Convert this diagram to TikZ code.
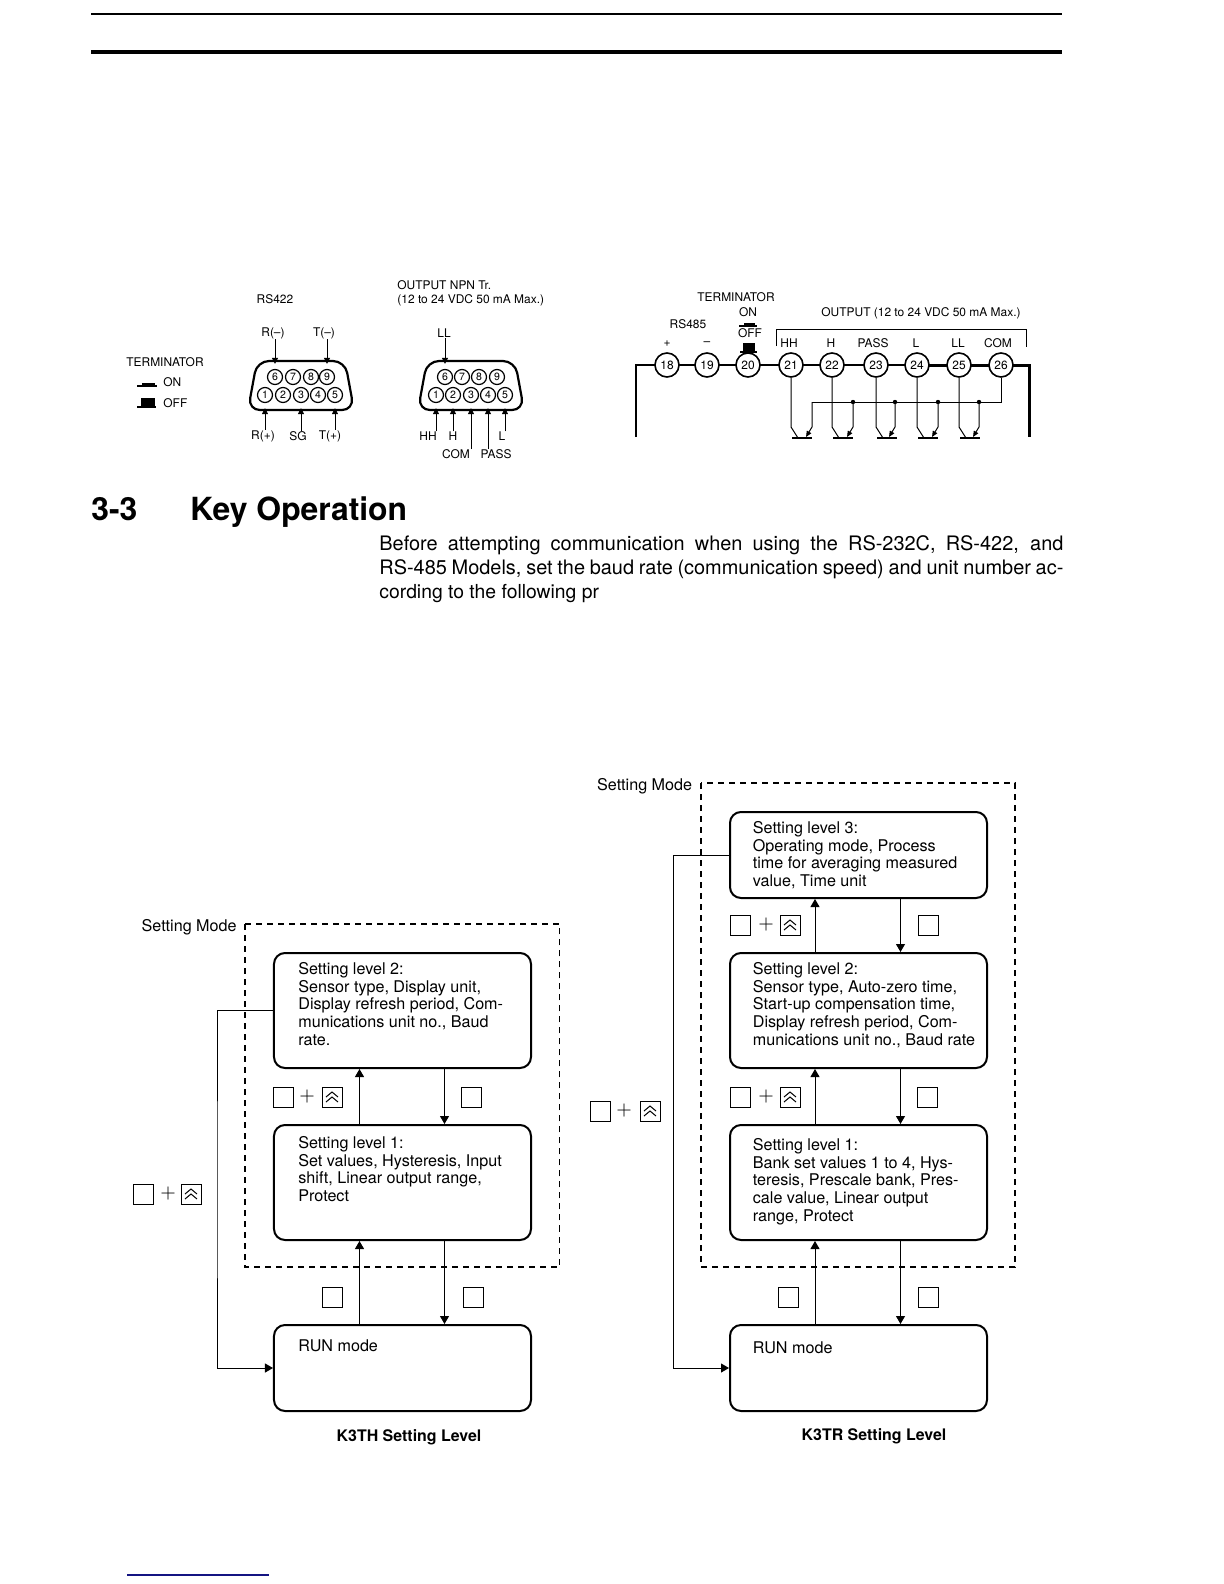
\documentclass[tikz,border=0pt]{standalone}
\usepackage{fontspec}
\usepackage{tikz}
\usepackage{xcolor}
\usetikzlibrary{arrows.meta}
\setmainfont{TeX Gyre Heros}
\definecolor{footblue}{RGB}{20,20,130}

\tikzset{
    smalltext/.style={inner sep=0pt, font=\fontsize{6}{7}\selectfont},
    boxtext/.style={inner sep=0pt, anchor=north west, align=left, font=\fontsize{8.1}{8.85}\selectfont},
    levelbox/.style={draw, line width=1bp, rounded corners=5.5bp, minimum width=128.5bp, minimum height=57.5bp},
    runbox/.style={levelbox, minimum height=43bp},
    flowline/.style={line width=0.5bp, -{Triangle[length=4bp,width=4.5bp]}},
    modeline/.style={line width=0.65bp, dash pattern=on 3bp off 2.5bp},
    keybox/.style={draw, line width=0.5bp, inner sep=0pt, minimum size=10bp},
    upkey/.style={keybox, path picture={
        \draw[line width=0.5bp, shift={(path picture bounding box.center)}] (-6,0) -- (0,-5) -- (6,0) (-6,5) -- (0,0) -- (6,5);}},
    plussign/.style={inner sep=0pt, font=\fontsize{10}{11}\selectfont},
    pincircle/.style={draw, circle, fill=white, line width=0.6bp, inner sep=0pt, minimum size=7.5bp, font=\fontsize{5.3}{6}\selectfont},
    termcircle/.style={draw, circle, fill=white, line width=0.8bp, inner sep=0pt, minimum size=12bp, font=\fontsize{6}{7}\selectfont},
    pinarrow/.style={line width=0.5bp, -{Triangle[length=3bp,width=3bp]}, shorten >=2.5bp},
    headtext/.style={inner sep=0pt, anchor=base west, font=\fontsize{16}{16}\selectfont\bfseries},
}

\begin{document}
\begin{tikzpicture}[x=0.5bp, y=-0.5bp]
    \useasboundingbox (0,0) rectangle (1224,1584);

    % --- Page rules ---
    \draw[line width=0.6bp] (91,14) -- (1062,14);
    \draw[line width=2bp] (91,52) -- (1062,52);
    \draw[footblue, line width=0.6bp] (127,1575) -- (269,1575);

    % --- RS422 connector ---
    \node[smalltext] (termTitle) at (165,362) {TERMINATOR};
    \node[smalltext, anchor=west] (termOn) at (163,382) {ON};
    \node[smalltext, anchor=west] (termOff) at (163,403) {OFF};
    \draw[line width=1bp] (137,386) -- (157,386);
    \fill (142,383) rectangle (155,386);
    \draw[line width=1bp] (137,407) -- (156,407);
    \fill (141,398) rectangle (155,407);

    \node[smalltext] (rsTitle) at (275,299) {RS422};
    \draw[line width=1.1bp, rounded corners=6bp] (257,361) -- (345,361) -- (354,410) -- (248,410) -- cycle;
    \foreach \pin/\px in {6/275,7/293,8/311,9/327}
        \node[pincircle] (rsPin\pin) at (\px,377) {\pin};
    \foreach \pin/\px in {1/265,2/283,3/301,4/318,5/335}
        \node[pincircle] (rsPin\pin) at (\px,395) {\pin};
    \node[smalltext] (rsRm) at (273,333) {R(--)};
    \node[smalltext] (rsTm) at (324,333) {T(--)};
    \node[smalltext] (rsRp) at (263,436) {R(+)};
    \node[smalltext] (rsSg) at (298,436) {SG};
    \node[smalltext] (rsTp) at (330,436) {T(+)};
    \draw[pinarrow] (rsRm.south -| rsPin6) -- (rsPin6.north);
    \draw[pinarrow] (rsTm.south -| rsPin9) -- (rsPin9.north);
    \draw[pinarrow] (rsRp.north -| rsPin1) -- (rsPin1.south);
    \draw[pinarrow] (rsSg.north -| rsPin3) -- (rsPin3.south);
    \draw[pinarrow] (rsTp.north -| rsPin5) -- (rsPin5.south);

    % --- NPN output connector ---
    \node[smalltext, anchor=west] (npnTitle) at (397,285) {OUTPUT NPN Tr.};
    \node[smalltext, anchor=west] (npnRange) at (397,300) {(12 to 24 VDC 50 mA Max.)};
    \draw[line width=1.1bp, rounded corners=6bp] (427,361) -- (515,361) -- (524,410) -- (418,410) -- cycle;
    \foreach \pin/\px in {6/445,7/462,8/479,9/497}
        \node[pincircle] (npnPin\pin) at (\px,377) {\pin};
    \foreach \pin/\px in {1/436,2/453,3/471,4/488,5/505}
        \node[pincircle] (npnPin\pin) at (\px,395) {\pin};
    \node[smalltext] (npnLL) at (444,333) {LL};
    \node[smalltext] (npnHH) at (428,436) {HH};
    \node[smalltext] (npnH) at (453,436) {H};
    \node[smalltext] (npnL) at (502,436) {L};
    \node[smalltext] (npnCOM) at (456,454) {COM};
    \node[smalltext] (npnPASS) at (496,454) {PASS};
    \draw[pinarrow] (npnLL.south -| npnPin6) -- (npnPin6.north);
    \draw[pinarrow] (npnHH.north -| npnPin1) -- (npnPin1.south);
    \draw[pinarrow] (npnH.north -| npnPin2) -- (npnPin2.south);
    \draw[pinarrow] (npnCOM.north -| npnPin3) -- (npnPin3.south);
    \draw[pinarrow] (npnPASS.north -| npnPin4) -- (npnPin4.south);
    \draw[pinarrow] (npnL.north -| npnPin5) -- (npnPin5.south);

    % --- Terminal block ---
    \coordinate (wireLeft) at (636,437);
    \coordinate (wireRight) at (1029,437);
    \foreach \term/\tx in {18/667,19/707,20/748,21/791,22/832,23/876,24/917,25/959,26/1001}
        \coordinate (termAt\term) at (\tx,365);
    \draw[line width=1.3bp] (wireLeft) |- (termAt18) -- (termAt24);
    \draw[line width=1.5bp] (termAt24) -- (termAt26) -| (wireRight);
    \foreach \term/\tx in {18/667,19/707,20/748,21/791,22/832,23/876,24/917,25/959,26/1001}
        \node[termcircle] (term\term) at (\tx,365) {\term};

    \node[smalltext] (blockTerm) at (736,297) {TERMINATOR};
    \node[smalltext] (blockOn) at (748,312) {ON};
    \node[smalltext] (blockOff) at (750,333) {OFF};
    \node[smalltext] (blockRs) at (688,324) {RS485};
    \node[smalltext] (blockPlus) at (667,344) {+};
    \node[smalltext] (blockMinus) at (707,344) {--};
    \draw[line width=1bp] (739,326) -- (757,326);
    \fill (744,323) rectangle (755,326);
    \draw[line width=1bp] (740,351.5) -- (757,351.5);
    \fill (743,343) rectangle (755,351);

    \node[smalltext, anchor=west] (outTitle) at (821,313) {OUTPUT (12 to 24 VDC 50 mA Max.)};
    \draw[line width=0.5bp] (776,346) |- (1026,329) -- (1026,347);
    \node[smalltext] (outHH) at (789,343) {HH};
    \node[smalltext] (outH) at (831,343) {H};
    \node[smalltext] (outPASS) at (873,343) {PASS};
    \node[smalltext] (outL) at (916,343) {L};
    \node[smalltext] (outLL) at (958,343) {LL};
    \node[smalltext] (outCOM) at (998,343) {COM};

    % Common bus and the five output transistors
    \draw[line width=0.5bp] (term26.south) |- (812,402);
    \foreach \term/\cx/\ex in {21/791/812,22/832/853,23/876/895,24/917/938,25/959/979} {
        \draw[line width=0.5bp] (term\term.south) -- (\cx,427) -- (\cx+7,438);
        \draw[line width=0.8bp] (\cx+1,438) -- (\cx+21,438);
        \draw[line width=0.5bp, -{Triangle[length=3bp,width=2.5bp]}] (\ex,402) -- (\ex,427) -- (\ex-6,437);
    }
    \foreach \ex in {853,895,938,979}
        \fill (\ex,402) circle (2.2);

    % --- Heading and paragraph ---
    \node[headtext] (secNum) at (91,520) {3-3};
    \node[headtext] (secTitle) at (190,520) {Key Operation};
    \node[inner sep=0pt, anchor=north west, align=left, font=\fontsize{10}{12}\selectfont] (secBody) at (379,535.5)
        {\makebox[342bp][s]{Before attempting communication when using the RS-232C, RS-422, and}\\
        \makebox[342bp][s]{RS-485 Models, set the baud rate (communication speed) and unit number ac-}\\
        {\fontsize{9.7}{12}\selectfont cording to the following pr}};

    % --- K3TH levels ---
    \draw[modeline] (245,924) rectangle (559.5,1267);
    \node[boxtext, anchor=east] (thMode) at (237,927) {Setting Mode};
    \node[levelbox] (thTwo) at (402.5,1010.5) {};
    \node[levelbox] (thOne) at (402.5,1182.5) {};
    \node[runbox] (thRun) at (402.5,1368) {};
    \node[boxtext] (thTwoText) at (298,962) {Setting level 2:\\Sensor type, Display unit,\\Display refresh period, Com-\\munications unit no., Baud\\rate.};
    \node[boxtext] (thOneText) at (298,1136) {Setting level 1:\\Set values, Hysteresis, Input\\shift, Linear output range,\\Protect};
    \node[boxtext] (thRunText) at (298,1339) {RUN mode};
    \node[inner sep=0pt, font=\fontsize{8}{9}\selectfont\bfseries] (thCaption) at (409,1437) {K3TH Setting Level};

    \coordinate (thUp) at (359.5,1000);
    \coordinate (thDown) at (444.5,1000);
    \coordinate (thLoop) at (217,1190);
    \draw[flowline] (thOne.north -| thUp) -- (thTwo.south -| thUp);
    \draw[flowline] (thTwo.south -| thDown) -- (thOne.north -| thDown);
    \draw[flowline] (thRun.north -| thUp) -- (thOne.south -| thUp);
    \draw[flowline] (thOne.south -| thDown) -- (thRun.north -| thDown);
    \draw[flowline] (thTwo.west) -| (thLoop) |- (thRun.west);

    \node[keybox] (thKeyA) at (283.5,1097) {};
    \node[plussign] (thPlusA) at (307,1097) {$+$};
    \node[upkey] (thUpA) at (332,1097) {};
    \node[keybox] (thKeyB) at (471,1097) {};
    \node[keybox] (thKeyC) at (332.5,1297) {};
    \node[keybox] (thKeyD) at (473,1297) {};
    \node[keybox] (thKeyE) at (143.5,1194) {};
    \node[plussign] (thPlusE) at (168,1194) {$+$};
    \node[upkey] (thUpE) at (191,1194) {};

    % --- K3TR levels ---
    \draw[modeline] (701,783) rectangle (1015,1267);
    \node[boxtext, anchor=east] (trMode) at (692.5,786) {Setting Mode};
    \node[levelbox, minimum height=43bp] (trThree) at (858.5,855) {};
    \node[levelbox] (trTwo) at (858.5,1010.5) {};
    \node[levelbox] (trOne) at (858.5,1182.5) {};
    \node[runbox] (trRun) at (858.5,1368) {};
    \node[boxtext] (trThreeText) at (752.5,821) {Setting level 3:\\Operating mode, Process\\time for averaging measured\\value, Time unit};
    \node[boxtext] (trTwoText) at (752.5,962) {Setting level 2:\\Sensor type, Auto-zero time,\\Start-up compensation time,\\Display refresh period, Com-\\munications unit no., Baud rate};
    \node[boxtext] (trOneText) at (752.5,1138) {Setting level 1:\\Bank set values 1 to 4, Hys-\\teresis, Prescale bank, Pres-\\cale value, Linear output\\range, Protect};
    \node[boxtext] (trRunText) at (752.5,1341) {RUN mode};
    \node[inner sep=0pt, font=\fontsize{8}{9}\selectfont\bfseries] (trCaption) at (874,1436) {K3TR Setting Level};

    \coordinate (trUp) at (815,1000);
    \coordinate (trDown) at (900.5,1000);
    \coordinate (trLoop) at (673.5,1100);
    \draw[flowline] (trTwo.north -| trUp) -- (trThree.south -| trUp);
    \draw[flowline] (trThree.south -| trDown) -- (trTwo.north -| trDown);
    \draw[flowline] (trOne.north -| trUp) -- (trTwo.south -| trUp);
    \draw[flowline] (trTwo.south -| trDown) -- (trOne.north -| trDown);
    \draw[flowline] (trRun.north -| trUp) -- (trOne.south -| trUp);
    \draw[flowline] (trOne.south -| trDown) -- (trRun.north -| trDown);
    \draw[flowline] (trThree.west) -| (trLoop) |- (trRun.west);

    \node[keybox] (trKeyA) at (740.5,925) {};
    \node[plussign] (trPlusA) at (766,925) {$+$};
    \node[upkey] (trUpA) at (790,925) {};
    \node[keybox] (trKeyB) at (928,925) {};
    \node[keybox] (trKeyC) at (740.5,1097) {};
    \node[plussign] (trPlusC) at (766,1097) {$+$};
    \node[upkey] (trUpC) at (790,1097) {};
    \node[keybox] (trKeyD) at (927,1097) {};
    \node[keybox] (trKeyE) at (788,1297) {};
    \node[keybox] (trKeyF) at (928,1297) {};
    \node[keybox] (trKeyG) at (600.5,1111) {};
    \node[plussign] (trPlusG) at (624,1111) {$+$};
    \node[upkey] (trUpG) at (650,1111) {};
\end{tikzpicture}
\end{document}
